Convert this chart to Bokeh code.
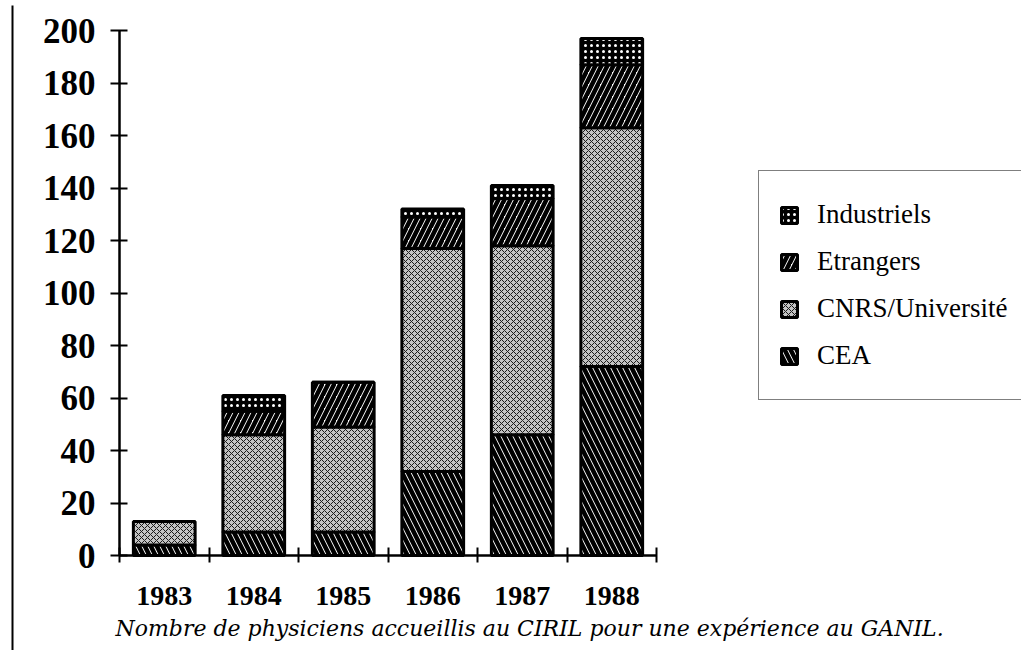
from bokeh.plotting import figure
from bokeh.models import (ColumnDataSource, FixedTicker, Legend, LegendItem, Label, BoxAnnotation)
from bokeh.embed import file_html
from bokeh.resources import INLINE

years = ["1983", "1984", "1985", "1986", "1987", "1988"]
cea = [4, 9, 9, 32, 46, 72]
cnrs = [9, 37, 40, 85, 72, 91]
etrangers = [0, 9, 17, 12, 18, 24]
industriels = [0, 6, 0, 3, 5, 10]
y_ticks = [0, 20, 40, 60, 80, 100, 120, 140, 160, 180, 200]
caption = "Nombre de physiciens accueillis au CIRIL pour une expérience au GANIL."

W, H = 1021, 650
XPX, YPX = 89.5, 2.625          # pixels per unit
X0, Y0 = 119, 555               # pixel position of the origin

xs = [i + 0.5 for i in range(len(years))]
source = ColumnDataSource(dict(x=xs, CEA=cea, CNRS=cnrs, Etrangers=etrangers, Industriels=industriels))

p = figure(width=W, height=H,
           x_range=(-X0 / XPX, (W - X0) / XPX),
           y_range=(-(H - Y0) / YPX, Y0 / YPX),
           output_backend="svg", toolbar_location=None,
           min_border=0)
p.background_fill_color = "white"
p.border_fill_color = "white"
p.outline_line_color = None
p.xgrid.visible = False
p.ygrid.visible = False

stackers = ["CEA", "CNRS", "Etrangers", "Industriels"]
renderers = p.vbar_stack(
    stackers, x="x", width=0.69, source=source,
    fill_color=["white", "#c4c4c4", "white", "black"],
    hatch_pattern=["\\", "x", "/", "."],
    hatch_color=["black", "#1a1a1a", "black", "white"],
    hatch_scale=[12, 6, 12, 6],
    hatch_weight=[4.5, 1.0, 4.5, 1.2],
    line_color="black", line_width=3,
)

labels = ["CEA", "CNRS/Université", "Etrangers", "Industriels"]
items = [LegendItem(label=labels[i], renderers=[renderers[i]]) for i in range(3, -1, -1)]
legend = Legend(items=items, location=(758, H - 400))
legend.label_text_font = "Liberation Serif"
legend.label_text_font_size = "27px"
legend.label_text_color = "black"
legend.glyph_width = 20
legend.glyph_height = 20
legend.label_height = 47
legend.spacing = 0
legend.padding = 20
legend.margin = 0
legend.label_standoff = 18
legend.label_width = 260
legend.border_line_color = "black"
legend.border_line_width = 1.5
legend.background_fill_color = "white"
legend.background_fill_alpha = 1
p.add_layout(legend)

# y axis
p.yaxis.fixed_location = 0
p.yaxis.bounds = (0, 200)
p.yaxis.ticker = FixedTicker(ticks=y_ticks)
p.yaxis.major_label_text_font = "Liberation Serif"
p.yaxis.major_label_text_font_style = "bold"
p.yaxis.major_label_text_font_size = "35px"
p.yaxis.major_label_text_color = "black"
p.yaxis.axis_line_width = 2.5
p.yaxis.axis_line_color = "black"
p.yaxis.major_tick_line_width = 2
p.yaxis.major_tick_line_color = "black"
p.yaxis.major_tick_in = 8
p.yaxis.major_tick_out = 9
p.yaxis.minor_tick_line_color = None
p.yaxis.major_label_standoff = 15

# x axis
p.xaxis.fixed_location = 0
p.xaxis.bounds = (0, len(years))
p.xaxis.ticker = FixedTicker(ticks=xs, minor_ticks=list(range(len(years) + 1)))
p.xaxis.major_label_overrides = {x: y for x, y in zip(xs, years)}
p.xaxis.major_label_text_font = "Liberation Serif"
p.xaxis.major_label_text_font_style = "bold"
p.xaxis.major_label_text_font_size = "28px"
p.xaxis.major_label_text_color = "black"
p.xaxis.axis_line_width = 2.5
p.xaxis.axis_line_color = "black"
p.xaxis.major_tick_in = 0
p.xaxis.major_tick_out = 0
p.xaxis.minor_tick_in = 8
p.xaxis.minor_tick_out = 7
p.xaxis.minor_tick_line_width = 2
p.xaxis.minor_tick_line_color = "black"
p.xaxis.major_label_standoff = 24

cap = Label(x=115, y=H - 628, x_units="screen", y_units="screen", text=caption,
            text_font="DejaVu Serif", text_font_style="italic", text_font_size="22px",
            text_baseline="middle", text_align="left", text_color="black")
p.add_layout(cap)

border = BoxAnnotation(left=11, right=13, bottom=0, top=H - 5,
                       left_units="screen", right_units="screen",
                       bottom_units="screen", top_units="screen",
                       fill_color="black", fill_alpha=1, line_color=None)
p.add_layout(border)

open("out.html", "w").write(file_html(p, INLINE))
